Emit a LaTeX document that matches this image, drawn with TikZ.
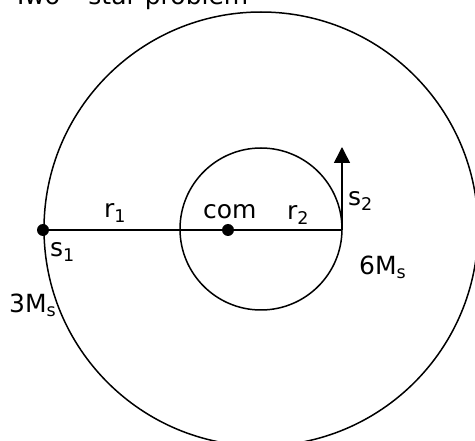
\documentclass[tikz,border=0pt]{standalone}
\usepackage{fontspec}
\setmainfont{DejaVu Sans}
\usetikzlibrary{arrows.meta, positioning}
\tikzset{
    orbit/.style = {draw=black, line width=1.5pt},
    mass/.style = {circle, fill=black, inner sep=0pt, minimum size=12pt},
    lbl/.style = {anchor=base west, inner sep=0pt, font=\fontsize{25}{30}\selectfont},
    arrow/.style = {line width=1.5pt, -{Triangle[width=16pt,length=16pt]}},
}
\begin{document}
\begin{tikzpicture}[x=1pt, y=-1pt]
\useasboundingbox (0,0) rectangle (475,441);
\coordinate (centre) at (261,229);
\node (com) [mass] at (228,230) {};
\node (s1) [mass] at (43,230) {};
\coordinate (s2) at (342,230);
\coordinate (tip) at (342,147);

% Orbits
\draw[orbit] (centre) circle (217);
\draw[orbit] (centre) circle (81);

% Radii and velocity
\draw[orbit] (s1.center) -- (s2);
\draw[arrow] (s2) -- (tip);

% Labels
\node (title) [lbl] at (13,5) {Two – star problem};
\node (r1) [lbl] at (104,218) {r\textsubscript{1}};
\node (comlbl) [lbl] at (203,219) {com};
\node (r2) [lbl] at (287,220) {r\textsubscript{2}};
\node (s2lbl) [lbl] at (348,206) {s\textsubscript{2}};
\node (m2) [lbl] at (359,275) {6M\textsubscript{s}};
\node (s1lbl) [lbl] at (50,257) {s\textsubscript{1}};
\node (m1) [lbl] at (9,313) {3M\textsubscript{s}};
\end{tikzpicture}
\end{document}
